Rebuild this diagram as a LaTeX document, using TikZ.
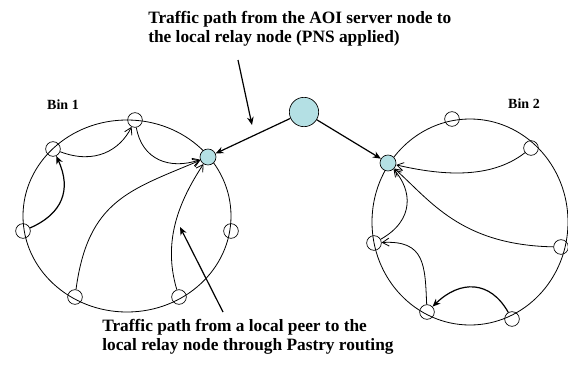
\documentclass[tikz,border=0pt]{standalone}
\usepackage{fontspec}
\setmainfont{Liberation Serif}
\usetikzlibrary{arrows.meta, positioning, calc}
\definecolor{relayblue}{RGB}{180,224,228}

\begin{document}
\begin{tikzpicture}[x=0.75pt, y=-0.75pt,
  peer/.style={draw, circle, inner sep=0pt, minimum size=11pt, line width=0.5pt},
  relay/.style={peer, fill=relayblue, minimum size=12pt},
  server/.style={peer, fill=relayblue, minimum size=22pt},
  route/.style={-{Straight Barb[length=5pt, width=6pt]}, line width=0.6pt},
  hop/.style={-{Stealth[length=6pt, width=5pt]}, line width=0.9pt},
  note/.style={font=\bfseries\fontsize{13}{14.5}\selectfont, align=left, inner sep=0pt},
  binlbl/.style={font=\bfseries\fontsize{10.5}{12}\selectfont, inner sep=0pt}
]
\useasboundingbox (0,0) rectangle (568,368);

% the two bins
\draw[line width=0.6pt] (127,216) ellipse [x radius=104, y radius=96];
\draw[line width=0.6pt] (470,222) ellipse [x radius=98, y radius=103];
\node[binlbl] (bin1) at (63,105) {Bin 1};
\node[binlbl] (bin2) at (524,104) {Bin 2};

% peers of bin 1
\node[peer] (a1) at (135,120) {};
\node[peer] (a2) at (53,149) {};
\node[peer] (a3) at (23,231) {};
\node[peer] (a4) at (75,297) {};
\node[peer] (a5) at (179,297) {};
\node[peer] (a6) at (231,231) {};
\node[relay] (ra) at (208,157) {};

% peers of bin 2
\node[peer] (b1) at (452,119) {};
\node[peer] (b2) at (531,148) {};
\node[peer] (b3) at (561,247) {};
\node[peer] (b4) at (374,243) {};
\node[peer] (b5) at (427,312) {};
\node[peer] (b6) at (512,319) {};
\node[relay] (rb) at (388,163) {};

% AOI server
\node[server] (aoi) at (304,112) {};

% routing inside bin 1
\draw[hop] (a3) .. controls (62,214) and (72,190) .. (a2);
\draw[route] (a2) .. controls (95,165) and (120,150) .. (a1);
\draw[route] (a1) .. controls (142,160) and (170,170) .. (ra);
\draw[route] (a4) .. controls (88,200) and (130,190) .. (ra);
\draw[route] (a5) .. controls (162,240) and (180,200) .. (ra);

% routing inside bin 2
\draw[route] (b2) .. controls (490,180) and (440,175) .. (rb);
\draw[route] (b3) .. controls (460,245) and (430,200) .. (rb);
\draw[route] (b4) .. controls (415,220) and (412,190) .. (rb);
\draw[route] (b5) .. controls (425,265) and (425,240) .. (b4);
\draw[hop] (b6) .. controls (490,280) and (460,280) .. (b5);

% server to relays
\draw[hop] (aoi) -- (ra);
\draw[hop] (aoi) -- (rb);

% notes
\node[note, anchor=north west] (topnote) at (148,11)
  {Traffic path from the AOI server node to\\the local relay node (PNS applied)};
\node[note, anchor=north west] (botnote) at (102,319)
  {Traffic path from a local peer to the\\local relay node through Pastry routing};
\coordinate (toptail) at (238,60);
\coordinate (tophead) at (252,125);
\coordinate (bottail) at (223,312);
\coordinate (bothead) at (180,227);
\draw[hop] (toptail) -- (tophead);
\draw[hop] (bottail) -- (bothead);
\end{tikzpicture}
\end{document}
